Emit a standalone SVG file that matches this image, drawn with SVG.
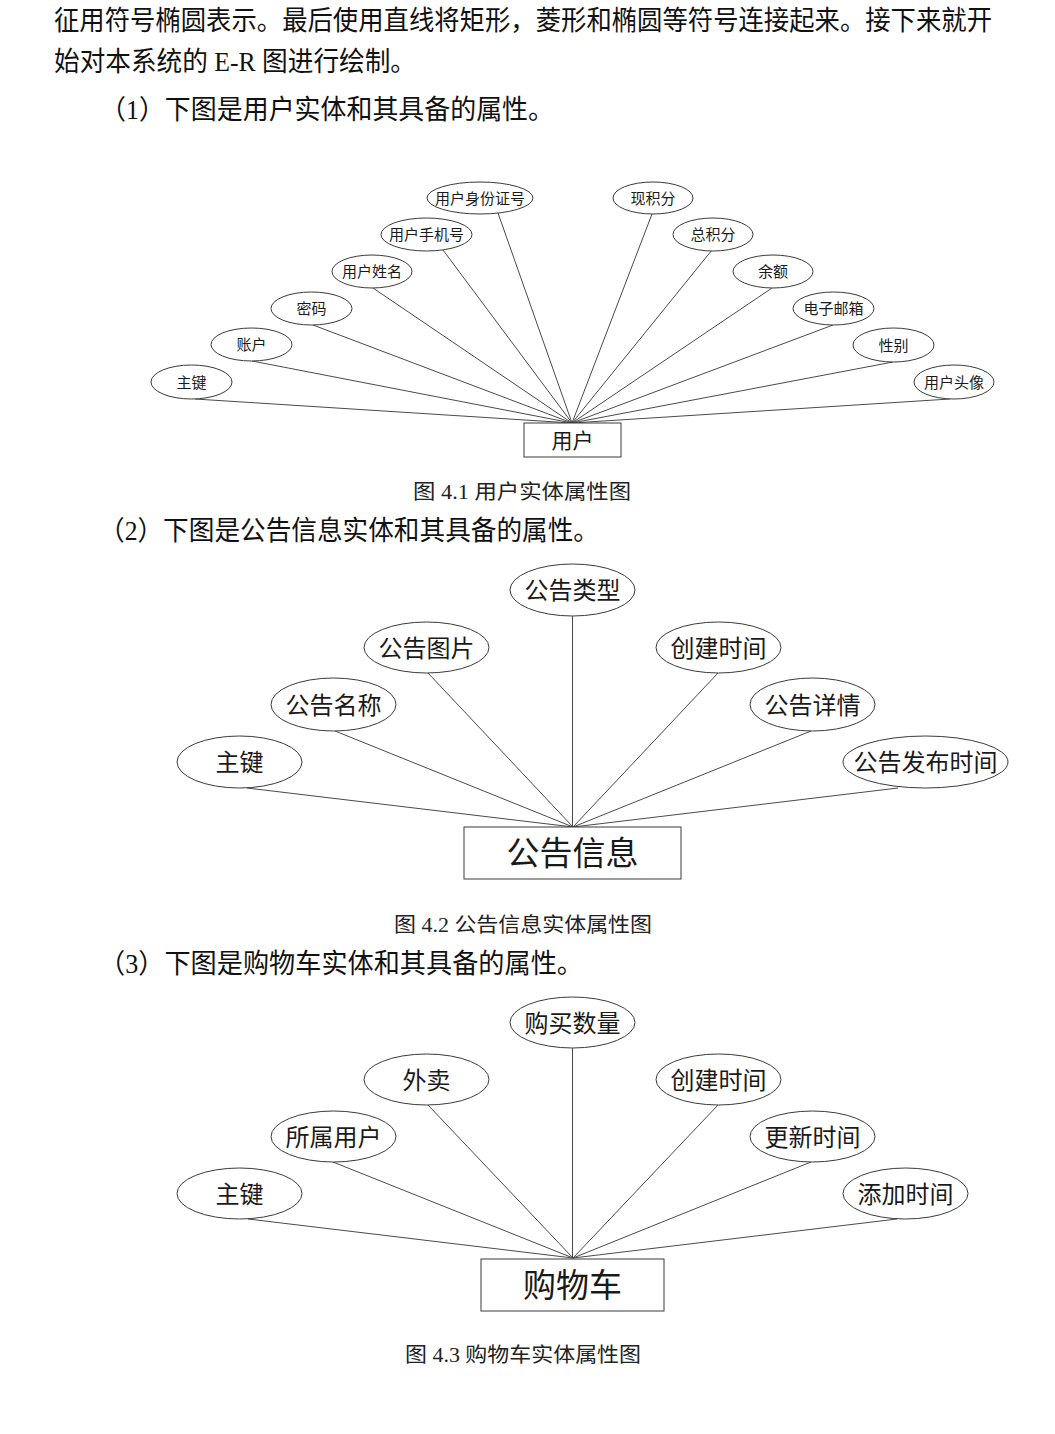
<svg xmlns="http://www.w3.org/2000/svg" width="1055" height="1434" viewBox="0 0 1055 1434">
<style>
.bg{fill:#ffffff}
.p{font-family:"Liberation Serif","Noto Sans CJK SC",serif;font-size:27px;fill:#111}
.cap{font-family:"Liberation Serif","Noto Sans CJK SC",serif;font-size:20px;fill:#222}
.att ellipse{fill:#fff;stroke:#3a3a3a;stroke-width:1}
.ent rect{fill:#fff;stroke:#3a3a3a;stroke-width:1}
.t1{font-family:"Noto Sans CJK SC","Microsoft YaHei",sans-serif;font-size:15px;fill:#1a1a1a;text-anchor:middle}
.t2{font-family:"Noto Sans CJK SC","Microsoft YaHei",sans-serif;font-size:24px;fill:#1a1a1a;text-anchor:middle}
.te1{font-family:"Noto Sans CJK SC","Microsoft YaHei",sans-serif;font-size:21px;fill:#1a1a1a;text-anchor:middle}
.te2{font-family:"Noto Sans CJK SC","Microsoft YaHei",sans-serif;font-size:33px;fill:#1a1a1a;text-anchor:middle}
.conn line{stroke:#4a4a4a;stroke-width:1}
</style>
<rect class="bg" x="0" y="0" width="1055" height="1434"/>

<g id="text">
<text class="p" x="54" y="30" textLength="938" lengthAdjust="spacingAndGlyphs">征用符号椭圆表示。最后使用直线将矩形，菱形和椭圆等符号连接起来。接下来就开</text>
<text class="p" x="54" y="71" textLength="362" lengthAdjust="spacingAndGlyphs">始对本系统的 E-R 图进行绘制。</text>
<text class="p" x="100" y="119" textLength="454" lengthAdjust="spacingAndGlyphs">（1）下图是用户实体和其具备的属性。</text>
<text class="cap" x="413" y="499" textLength="218" lengthAdjust="spacingAndGlyphs">图 4.1 用户实体属性图</text>
<text class="p" x="99" y="540" textLength="500" lengthAdjust="spacingAndGlyphs">（2）下图是公告信息实体和其具备的属性。</text>
<text class="cap" x="394" y="932" textLength="258" lengthAdjust="spacingAndGlyphs">图 4.2 公告信息实体属性图</text>
<text class="p" x="99" y="973" textLength="484" lengthAdjust="spacingAndGlyphs">（3）下图是购物车实体和其具备的属性。</text>
<text class="cap" x="405" y="1362" textLength="236" lengthAdjust="spacingAndGlyphs">图 4.3 购物车实体属性图</text>
</g>

<g id="connectors" class="conn">
<!-- diagram 1 -->
<line x1="195" y1="399" x2="572" y2="423"/>
<line x1="252" y1="361" x2="572" y2="423"/>
<line x1="313" y1="325" x2="572" y2="423"/>
<line x1="373" y1="288" x2="572" y2="423"/>
<line x1="443" y1="250" x2="572" y2="423"/>
<line x1="498" y1="213" x2="572" y2="423"/>
<line x1="652" y1="214" x2="572" y2="423"/>
<line x1="712" y1="250" x2="572" y2="423"/>
<line x1="772" y1="288" x2="572" y2="423"/>
<line x1="833" y1="325" x2="572" y2="423"/>
<line x1="893" y1="362" x2="572" y2="423"/>
<line x1="950" y1="399" x2="572" y2="423"/>
<!-- diagram 2 -->
<line x1="247" y1="788" x2="573" y2="827"/>
<line x1="335" y1="731" x2="573" y2="827"/>
<line x1="428" y1="673" x2="573" y2="827"/>
<line x1="572.5" y1="616" x2="572.5" y2="827"/>
<line x1="718" y1="673" x2="573" y2="827"/>
<line x1="811" y1="731" x2="573" y2="827"/>
<line x1="898" y1="788" x2="573" y2="827"/>
<!-- diagram 3 -->
<line x1="248" y1="1219" x2="573" y2="1258"/>
<line x1="333" y1="1162" x2="573" y2="1258"/>
<line x1="428" y1="1105" x2="573" y2="1258"/>
<line x1="572.5" y1="1048" x2="572.5" y2="1258"/>
<line x1="718" y1="1105" x2="573" y2="1258"/>
<line x1="811" y1="1162" x2="573" y2="1258"/>
<line x1="897" y1="1219" x2="573" y2="1258"/>
</g>

<!-- Diagram 1: 用户 -->
<g id="d1-entity" class="ent"><rect x="524" y="423" width="97" height="34"/><text class="te1" x="572.5" y="448">用户</text></g>
<g id="d1-a1" class="att"><ellipse cx="191.5" cy="382" rx="40.5" ry="17"/><text class="t1" x="191.5" y="387.7">主键</text></g>
<g id="d1-a2" class="att"><ellipse cx="251.5" cy="344.5" rx="40.5" ry="16.5"/><text class="t1" x="251.5" y="350.2">账户</text></g>
<g id="d1-a3" class="att"><ellipse cx="311.5" cy="308.5" rx="40.5" ry="16.5"/><text class="t1" x="311.5" y="314.2">密码</text></g>
<g id="d1-a4" class="att"><ellipse cx="372" cy="271.5" rx="40" ry="16.5"/><text class="t1" x="372" y="277.2">用户姓名</text></g>
<g id="d1-a5" class="att"><ellipse cx="426.5" cy="234.5" rx="45.5" ry="16.5"/><text class="t1" x="426.5" y="240.2">用户手机号</text></g>
<g id="d1-a6" class="att"><ellipse cx="480" cy="198" rx="53" ry="16"/><text class="t1" x="480" y="203.7">用户身份证号</text></g>
<g id="d1-a7" class="att"><ellipse cx="653" cy="198" rx="40" ry="16"/><text class="t1" x="653" y="203.7">现积分</text></g>
<g id="d1-a8" class="att"><ellipse cx="713" cy="234.5" rx="40" ry="16.5"/><text class="t1" x="713" y="240.2">总积分</text></g>
<g id="d1-a9" class="att"><ellipse cx="773" cy="271.5" rx="40" ry="16.5"/><text class="t1" x="773" y="277.2">余额</text></g>
<g id="d1-a10" class="att"><ellipse cx="833.5" cy="308.5" rx="40.5" ry="16.5"/><text class="t1" x="833.5" y="314.2">电子邮箱</text></g>
<g id="d1-a11" class="att"><ellipse cx="893.5" cy="345" rx="40.5" ry="17"/><text class="t1" x="893.5" y="350.7">性别</text></g>
<g id="d1-a12" class="att"><ellipse cx="954" cy="382" rx="40" ry="17"/><text class="t1" x="954" y="387.7">用户头像</text></g>

<!-- Diagram 2: 公告信息 -->
<g id="d2-entity" class="ent"><rect x="464" y="827" width="217" height="52"/><text class="te2" x="572.5" y="865">公告信息</text></g>
<g id="d2-a1" class="att"><ellipse cx="239.5" cy="762" rx="62.5" ry="26"/><text class="t2" x="239.5" y="771">主键</text></g>
<g id="d2-a2" class="att"><ellipse cx="333.5" cy="704.5" rx="62.5" ry="26.5"/><text class="t2" x="333.5" y="713.5">公告名称</text></g>
<g id="d2-a3" class="att"><ellipse cx="426.5" cy="647.5" rx="62.5" ry="25.5"/><text class="t2" x="426.5" y="656.5">公告图片</text></g>
<g id="d2-a4" class="att"><ellipse cx="572.5" cy="590" rx="62.5" ry="26"/><text class="t2" x="572.5" y="599">公告类型</text></g>
<g id="d2-a5" class="att"><ellipse cx="718.5" cy="647.5" rx="62.5" ry="25.5"/><text class="t2" x="718.5" y="656.5">创建时间</text></g>
<g id="d2-a6" class="att"><ellipse cx="812.5" cy="704.5" rx="62.5" ry="26.5"/><text class="t2" x="812.5" y="713.5">公告详情</text></g>
<g id="d2-a7" class="att"><ellipse cx="925.5" cy="762" rx="82.5" ry="26"/><text class="t2" x="925.5" y="771">公告发布时间</text></g>

<!-- Diagram 3: 购物车 -->
<g id="d3-entity" class="ent"><rect x="481" y="1259" width="183" height="52"/><text class="te2" x="572.5" y="1297">购物车</text></g>
<g id="d3-a1" class="att"><ellipse cx="239.5" cy="1193.5" rx="62.5" ry="25.5"/><text class="t2" x="239.5" y="1202.5">主键</text></g>
<g id="d3-a2" class="att"><ellipse cx="333.5" cy="1136.5" rx="62.5" ry="25.5"/><text class="t2" x="333.5" y="1145.5">所属用户</text></g>
<g id="d3-a3" class="att"><ellipse cx="426.5" cy="1079.5" rx="62.5" ry="25.5"/><text class="t2" x="426.5" y="1088.5">外卖</text></g>
<g id="d3-a4" class="att"><ellipse cx="572.5" cy="1022.5" rx="62.5" ry="25.5"/><text class="t2" x="572.5" y="1031.5">购买数量</text></g>
<g id="d3-a5" class="att"><ellipse cx="718.5" cy="1079.5" rx="62.5" ry="25.5"/><text class="t2" x="718.5" y="1088.5">创建时间</text></g>
<g id="d3-a6" class="att"><ellipse cx="812.5" cy="1136.5" rx="62.5" ry="25.5"/><text class="t2" x="812.5" y="1145.5">更新时间</text></g>
<g id="d3-a7" class="att"><ellipse cx="905.5" cy="1193.5" rx="62.5" ry="25.5"/><text class="t2" x="905.5" y="1202.5">添加时间</text></g>
</svg>
